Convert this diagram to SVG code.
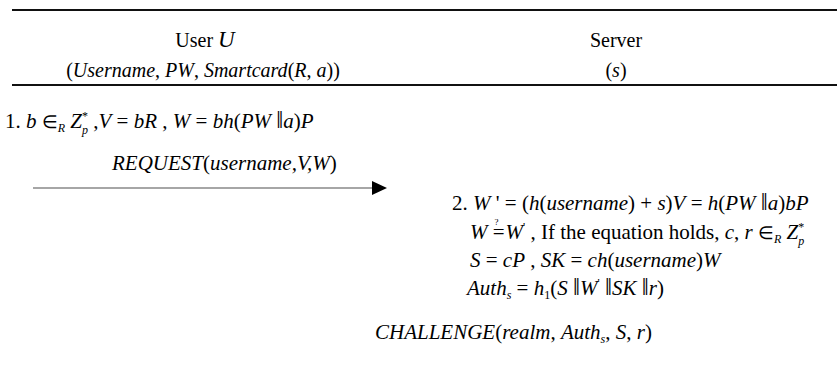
<svg xmlns="http://www.w3.org/2000/svg" width="837" height="372" viewBox="0 0 837 372">
<defs>
<style>
text{font-family:"Liberation Serif","Times New Roman",serif;font-size:21px;fill:#000}
.h{font-size:20px}
.i{font-style:italic}
.sm{font-size:12px}
.q{font-size:9px}
.e{font-size:18px}
.bar{font-size:25px}
.rule{stroke:#111;stroke-width:2}
</style>
<marker id="ah" markerWidth="15" markerHeight="14" refX="0" refY="7" orient="auto" markerUnits="userSpaceOnUse">
<path d="M0,0 L15,7 L0,14 Z" fill="#000"/>
</marker>
</defs>
<rect width="837" height="372" fill="#fff"/>
<g id="header">
<line class="rule" x1="12" y1="10" x2="837" y2="10"/>
<line class="rule" x1="12" y1="85" x2="837" y2="85"/>
</g>
<g id="user">
<text class="h" x="205" y="47" text-anchor="middle">User <tspan class="i" font-size="23">U</tspan></text>
<text class="h" x="203" y="77" text-anchor="middle">(<tspan class="i">Username</tspan>, <tspan class="i">PW</tspan>, <tspan class="i">Smartcard</tspan>(<tspan class="i">R</tspan>, <tspan class="i">a</tspan>))</text>
</g>
<g id="server">
<text class="h" x="616" y="47" text-anchor="middle">Server</text>
<text class="h" x="616" y="77" text-anchor="middle">(<tspan class="i">s</tspan>)</text>
</g>
<g id="step1">
<text x="5" y="128">1. <tspan class="i">b</tspan> <tspan class="e">∈</tspan><tspan class="i sm" dy="4">R</tspan><tspan class="i" dy="-4"> Z</tspan><tspan class="sm" dy="-8">*</tspan><tspan class="i sm" dx="-6" dy="14">p</tspan><tspan dy="-6"> ,</tspan><tspan class="i">V</tspan> = <tspan class="i">bR</tspan> , <tspan class="i">W</tspan> = <tspan class="i">bh</tspan>(<tspan class="i">PW</tspan> <tspan class="bar">‖</tspan><tspan class="i">a</tspan>)<tspan class="i">P</tspan></text>
</g>
<g id="connectors">
<line x1="33" y1="188" x2="372" y2="188" stroke="#888" stroke-width="1.5" marker-end="url(#ah)"/>
</g>
<g id="request">
<text x="112" y="170" class="i">REQUEST<tspan font-style="normal">(</tspan>username,V,W<tspan font-style="normal">)</tspan></text>
</g>
<g id="step2">
<text x="452" y="210">2. <tspan class="i">W</tspan> ' = (<tspan class="i">h</tspan>(<tspan class="i">username</tspan>) + <tspan class="i">s</tspan>)<tspan class="i">V</tspan> = <tspan class="i">h</tspan>(<tspan class="i">PW</tspan> <tspan class="bar">‖</tspan><tspan class="i">a</tspan>)<tspan class="i">bP</tspan></text>
<text x="470" y="239"><tspan class="i">W</tspan> =<tspan class="q" dx="-10" dy="-14">?</tspan><tspan class="i" dx="7" dy="14">W</tspan><tspan class="sm" dy="-8">'</tspan><tspan dy="8"> , If the equation holds, </tspan><tspan class="i">c</tspan>, <tspan class="i">r</tspan> <tspan class="e">∈</tspan><tspan class="i sm" dy="4">R</tspan><tspan class="i" dy="-4"> Z</tspan><tspan class="sm" dy="-8">*</tspan><tspan class="i sm" dx="-6" dy="14">p</tspan></text>
<text x="470" y="267"><tspan class="i">S</tspan> = <tspan class="i">cP</tspan> , <tspan class="i">SK</tspan> = <tspan class="i">ch</tspan>(<tspan class="i">username</tspan>)<tspan class="i">W</tspan></text>
<text x="467" y="295"><tspan class="i">Auth</tspan><tspan class="i sm" dy="4">s</tspan><tspan dy="-4"> = </tspan><tspan class="i">h</tspan><tspan class="sm" dy="4">1</tspan><tspan dy="-4">(</tspan><tspan class="i">S</tspan> <tspan class="bar">‖</tspan><tspan class="i">W</tspan><tspan class="sm" dy="-8">'</tspan><tspan dy="8"> </tspan><tspan class="bar">‖</tspan><tspan class="i">SK</tspan> <tspan class="bar">‖</tspan><tspan class="i">r</tspan>)</text>
</g>
<g id="challenge">
<text x="375" y="339"><tspan class="i">CHALLENGE</tspan>(<tspan class="i">realm</tspan>, <tspan class="i">Auth</tspan><tspan class="i sm" dy="4">s</tspan><tspan dy="-4">, </tspan><tspan class="i">S</tspan>, <tspan class="i">r</tspan>)</text>
</g>
</svg>
